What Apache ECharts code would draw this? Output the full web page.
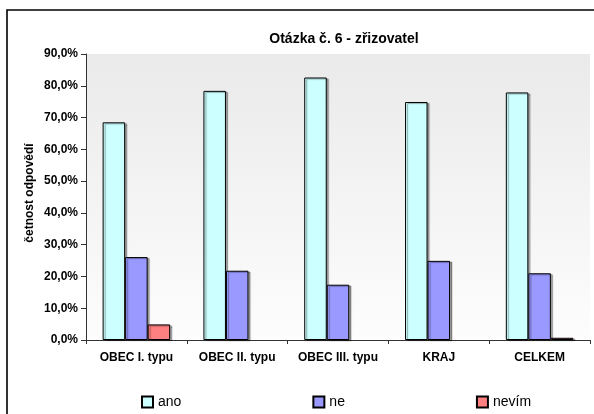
<!DOCTYPE html>
<html>
<head>
<meta charset="utf-8">
<script src="https://cdn.jsdelivr.net/npm/echarts@6/dist/echarts.min.js"></script>
<style>
  html, body { margin: 0; padding: 0; background: #fff; }
  #chart { width: 594px; height: 414px; }
</style>
</head>
<body>
<div id="chart"></div>
<script>
// Categories and answer shares (%)
const categories = ['OBEC I. typu', 'OBEC II. typu', 'OBEC III. typu', 'KRAJ', 'CELKEM'];
const ano = [68.5, 78.4, 82.6, 74.9, 77.9];
const ne = [26.1, 21.8, 17.4, 24.9, 21.0];
const nevim = [4.9, 0, 0, 0, 0.7];
const seriesNames = ['ano', 'ne', 'nevím'];
const yAxisTitle = 'četnost odpovědí';

const font = '"Liberation Sans", Arial, sans-serif';
const pct = v => v.toFixed(1).replace('.', ',') + '%';

const barStyle = color => ({
  color: color,
  borderColor: '#000',
  borderWidth: 1,
  shadowColor: 'rgba(0,0,0,0.35)',
  shadowOffsetX: 2,
  shadowOffsetY: 1,
  shadowBlur: 1
});

// zero-height bars draw nothing (no outline)
const barData = values => values.map(v => v === 0
  ? { value: v, itemStyle: { borderWidth: 0, shadowColor: 'transparent', opacity: 0 } }
  : v);

const chart = echarts.init(document.getElementById('chart'), null, { renderer: 'canvas' });
chart.setOption({
  animation: false,
  backgroundColor: '#fff',
  textStyle: { fontFamily: font },
  graphic: [
    {
      type: 'rect',
      z: -10,
      shape: { x: 7, y: 10, width: 700, height: 500 },
      style: { fill: 'none', stroke: '#000', lineWidth: 1.6 }
    },
    {
      type: 'text',
      x: 30, y: 193,
      rotation: Math.PI / 2,
      style: {
        text: yAxisTitle,
        align: 'center', verticalAlign: 'middle',
        font: 'bold 12px ' + font, fill: '#000'
      }
    }
  ],
  title: {
    text: 'Otázka č. 6 - zřizovatel',
    left: 339,
    top: 27,
    textAlign: 'center',
    textStyle: { fontFamily: font, fontWeight: 'bold', fontSize: 14, color: '#000' }
  },
  legend: {
    data: seriesNames,
    left: 136,
    top: 390,
    itemGap: 131,
    itemWidth: 11,
    itemHeight: 11,
    icon: 'rect',
    textStyle: { fontFamily: font, fontSize: 14, color: '#000' }
  },
  grid: {
    left: 86, right: 4, top: 54, bottom: 74,
    show: true,
    borderWidth: 0,
    backgroundColor: {
      type: 'linear', x: 0, y: 0, x2: 0, y2: 1,
      colorStops: [{ offset: 0, color: '#eaeaea' }, { offset: 1, color: '#fdfdfd' }]
    }
  },
  xAxis: {
    type: 'category',
    data: categories,
    axisLine: { lineStyle: { color: '#333', width: 1 } },
    axisTick: { show: true, length: 4, lineStyle: { color: '#333' } },
    axisLabel: { interval: 0, hideOverlap: false, fontFamily: font, fontWeight: 'bold', fontSize: 12, color: '#000', margin: 12 }
  },
  yAxis: {
    type: 'value',
    min: 0, max: 90, interval: 10,
    axisLine: { show: true, lineStyle: { color: '#333', width: 1 } },
    axisTick: { show: true, length: 5, lineStyle: { color: '#333' } },
    splitLine: { show: false },
    axisLabel: { formatter: pct, fontFamily: font, fontWeight: 'bold', fontSize: 12, color: '#000', margin: 8 }
  },
  series: [
    { name: seriesNames[0], type: 'bar', data: barData(ano), barGap: '0%', barCategoryGap: '33%', itemStyle: barStyle('#ccffff') },
    { name: seriesNames[1], type: 'bar', data: barData(ne), barGap: '0%', barCategoryGap: '33%', itemStyle: barStyle('#9999ff') },
    { name: seriesNames[2], type: 'bar', data: barData(nevim), barGap: '0%', barCategoryGap: '33%', itemStyle: barStyle('#ff8080') }
  ]
});
</script>
</body>
</html>
